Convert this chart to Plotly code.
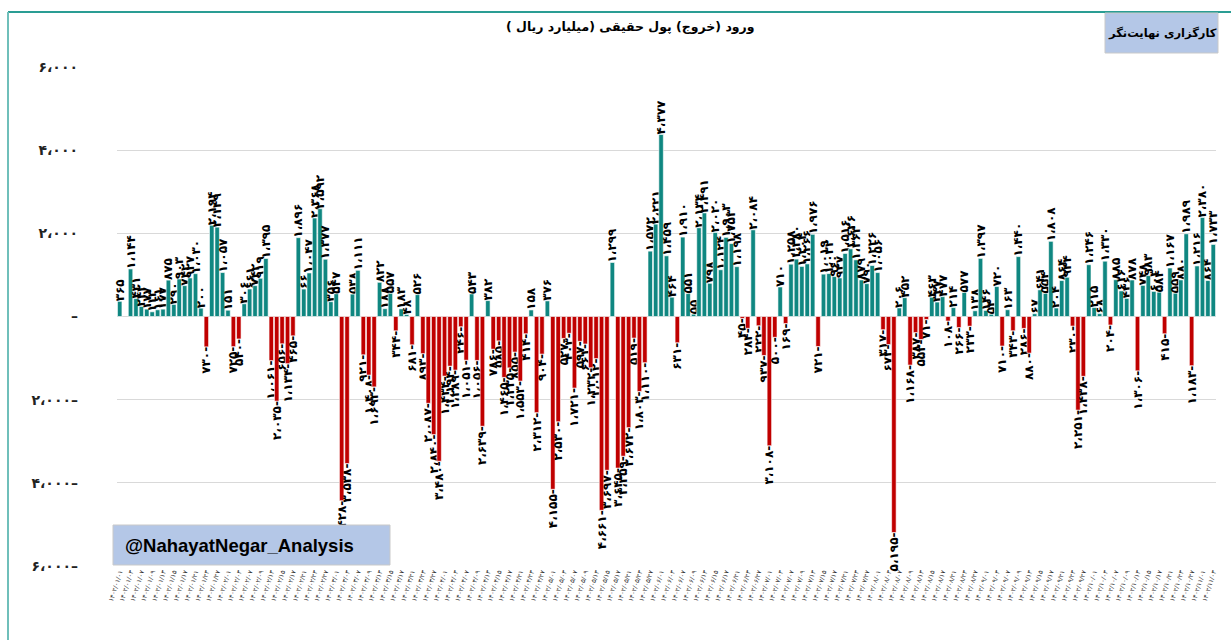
import plotly.graph_objects as go

# ---- data (billion rials) ----
values = [
    365, None, 1144, 431, 242, 177, 113, 161, 177, 875,
    290, 903, 742, 927, 1030, 200, -730, 2194, 2149, 1057,
    151, -725, -540, 306, 661, 742, 919, 1395, -1061, -2035,
    -656, -1134, -465, 1896, 660, 1047, 2368, 2592, 1377, 356,
    547, -4428, -3538, 538, 1111, -921, -1408, -1693, 822, 188,
    557, -344, 183, 48, -681, 526, -893, -2087, -2840, -3480,
    -1434, -1194, -1289, -246, -1051, 543, -1056, -2639, 382, -786,
    -585, -1465, -1235, -855, -1553, -414, 158, -2312, -904, 376,
    -4155, -2530, -527, -403, -1721, -597, -661, -1232, -1012, -4661,
    -3697, 1299, -3645, -3359, -2672, -519, -1803, -1110, 1572, 2221,
    4377, 1459, 464, -631, 1910, 551, 55, 2134, 2491, 798,
    2020, 1124, 1903, 1753, 1198, -45, -284, 2084, -222, -937,
    -3108, -500, 710, -169, 1258, 1380, 1204, 1266, 1976, -721,
    1019, 1032, 960, 927, 1516, 1626, 1363, 879, 790, 1226,
    1056, -317, -673, -5195, 206, 452, -1168, -387, -553, -71,
    463, 347, 477, -108, 214, -266, 577, -233, 138, 1397,
    146, 54, 720, -710, 163, -343, 1440, -286, -880, 67,
    641, 554, 1808, 204, 864, 944, -230, -2251, -1438, 1246,
    215, 68, 1330, -204, 885, 616, 436, 878, -1306, 748,
    983, 603, 584, -415, 1167, 559, 880, 1989, -1183, 1216,
    2380, 864, 1733,
]

# trading-day labels (Jalali dates, illegible in the reference)
months = ["۰۱", "۰۲", "۰۳", "۰۴", "۰۵", "۰۶", "۰۷", "۰۸", "۰۹", "۱۰", "۱۱", "۱۲"]
days = ["۰۱", "۰۲", "۰۳", "۰۶", "۰۷", "۰۸", "۰۹", "۱۰", "۱۳", "۱۴", "۱۵", "۱۶", "۱۷",
        "۲۰", "۲۱", "۲۲", "۲۳", "۲۴", "۲۷", "۲۸"]
categories = []
for m in months:
    for d in days:
        categories.append("۱۴۰۲/" + m + "/" + d)
categories = categories[:len(values)]

y_tickvals = [6000, 4000, 2000, 0, -2000, -4000, -6000]
y_ticktext = ["۶،۰۰۰", "۴،۰۰۰", "۲،۰۰۰", "–", "۲،۰۰۰–", "۴،۰۰۰–", "۶،۰۰۰–"]

title_text = "ورود (خروج) پول حقیقی (میلیارد ریال )"
brand_text = "کارگزاری نهایت‌نگر"
watermark_text = "@NahayatNegar_Analysis"

TEAL = "#0f8781"
RED = "#c00000"

FA = str.maketrans("0123456789", "۰۱۲۳۴۵۶۷۸۹")


def fa(v):
    if v is None:
        return ""
    s = f"{abs(v):,}".replace(",", "،").translate(FA)
    return s + "-" if v < 0 else s


colors = [TEAL if (v is not None and v >= 0) else RED for v in values]
texts = [fa(v) for v in values]

fig = go.Figure()
fig.add_trace(go.Bar(
    x=categories, y=values,
    marker=dict(color=colors, line=dict(color="white", width=0.6)),
    text=texts, textposition="outside", textangle=-90,
    constraintext="none", cliponaxis=False,
    textfont=dict(family="DejaVu Sans", size=12, color="black", weight="bold"),
    hoverinfo="x+y",
))

W, H = 1231, 640
L, R, T, B = 117, 15, 67, 74
pw, ph = W - L - R, H - T - B


def px(x):
    return (x - L) / pw


def py(y):
    return (H - B - y) / ph


fig.update_layout(
    width=W, height=H,
    margin=dict(l=L, r=R, t=T, b=B),
    paper_bgcolor="white", plot_bgcolor="white",
    bargap=0.17,
    showlegend=False,
    font=dict(family="DejaVu Sans", color="#222"),
    xaxis=dict(
        type="category",
        tickmode="array",
        tickvals=categories[::2],
        ticktext=categories[::2],
        tickangle=-72,
        tickfont=dict(size=6.5, color="#333"),
        showgrid=False, showline=False, ticks="",
    ),
    yaxis=dict(
        range=[-6000, 6000],
        tickmode="array",
        tickvals=y_tickvals,
        ticktext=y_ticktext,
        tickfont=dict(size=14, color="#222", family="DejaVu Sans", weight="bold"),
        ticklabelstandoff=38,
        showgrid=True, gridcolor="#d9d9d9", gridwidth=1,
        zeroline=False, showline=False, ticks="",
    ),
    shapes=[
        # outer frame
        dict(type="line", xref="paper", yref="paper",
             x0=px(8), x1=px(1231), y0=py(12), y1=py(12),
             line=dict(color="#2a9d94", width=2)),
        dict(type="line", xref="paper", yref="paper",
             x0=px(8), x1=px(8), y0=py(12), y1=py(640),
             line=dict(color="#6fbfba", width=2)),
        # brand box
        dict(type="rect", xref="paper", yref="paper",
             x0=px(1105), x1=px(1218), y0=py(53), y1=py(13),
             fillcolor="#b4c7e7", line=dict(color="#c9c9c9", width=1)),
        # watermark box
        dict(type="rect", xref="paper", yref="paper",
             x0=px(113), x1=px(390), y0=py(565), y1=py(525),
             fillcolor="#b4c7e7", line=dict(color="#c9c9c9", width=1)),
    ],
    annotations=[
        dict(text="<b>" + title_text + "</b>", xref="paper", yref="paper",
             x=px(630), y=py(27), xanchor="center", yanchor="middle", showarrow=False,
             font=dict(size=12.5, color="black", family="DejaVu Sans")),
        dict(text="<b>" + brand_text + "</b>", xref="paper", yref="paper",
             x=px(1162), y=py(33), xanchor="center", yanchor="middle", showarrow=False,
             font=dict(size=11.5, color="black", family="DejaVu Sans")),
        dict(text="<b>" + watermark_text + "</b>", xref="paper", yref="paper",
             x=px(123), y=py(545), xanchor="left", yanchor="middle", showarrow=False,
             font=dict(size=18.5, color="black", family="Liberation Sans")),
    ],
)

fig.write_html("out.html", config={"displayModeBar": False},
               post_script="document.body.style.margin='0';")
